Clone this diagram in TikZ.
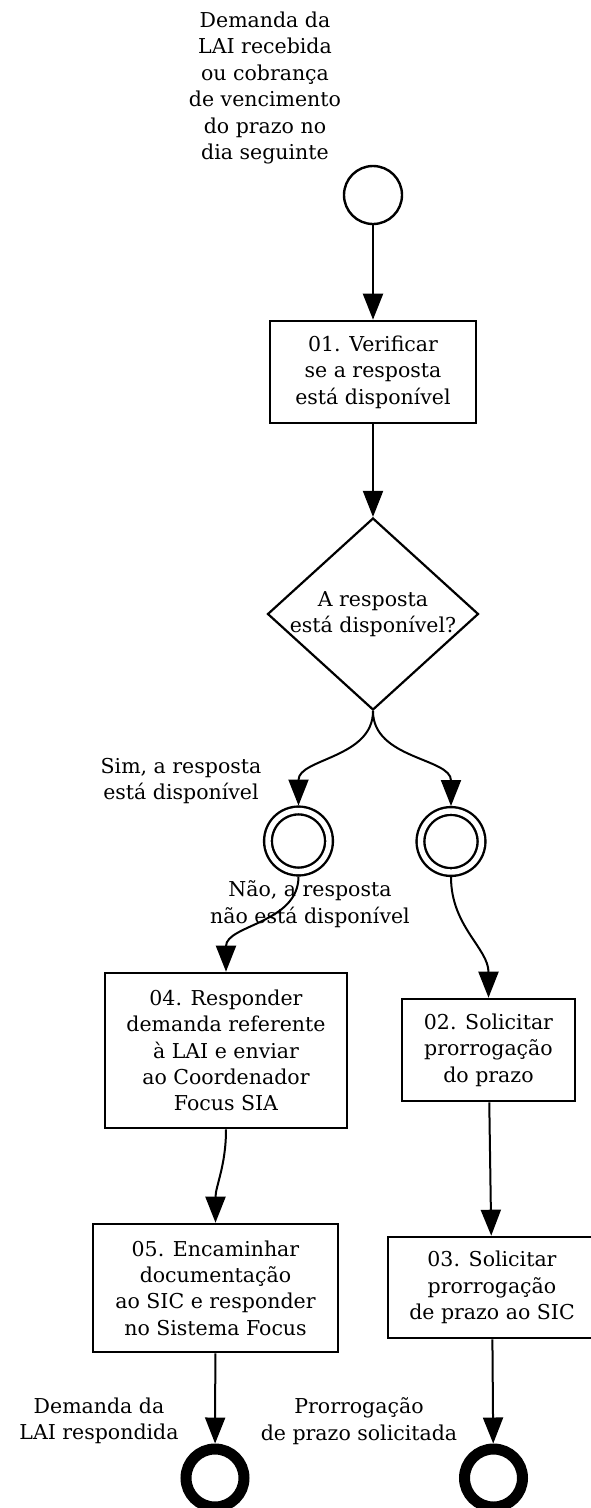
\documentclass[tikz,border=0pt]{standalone}
\usepackage{fontspec}
\setmainfont{DejaVu Serif}
\usetikzlibrary{shapes.geometric,arrows.meta,positioning}

\begin{document}
\begin{tikzpicture}[x=1pt, y=-1pt,
    txt/.style={align=center, inner sep=0, font=\fontsize{20.5}{26.4}\selectfont},
    task/.style={txt, draw, rectangle, line width=2.6pt},
    flow/.style={line width=2pt, -{Triangle[length=26pt, width=20pt]}}]
  \useasboundingbox (0,0) rectangle (590,1508);

  % events
  \node [circle, draw, line width=2.4pt, minimum size=58, inner sep=0](s) at (373,195) {};
  \node [circle, draw, line width=2.4pt, double, double distance=5.4pt, minimum size=61, inner sep=0, outer sep=5pt](g1) at (298.5,841) {};
  \node [circle, draw, line width=2.4pt, double, double distance=5.4pt, minimum size=61, inner sep=0, outer sep=5pt](g2) at (451,841.5) {};
  \node [circle, draw, line width=11pt, minimum size=58, inner sep=0](e1) at (215,1478) {};
  \node [circle, draw, line width=11pt, minimum size=58, inner sep=0](e2) at (493.5,1478) {};

  % tasks and gateway
  \node [task, minimum width=206, minimum height=102](t01) at (373,372) {01. Verificar\\se a resposta\\está disponível};
  \node [diamond, draw, line width=2.2pt, minimum width=211, minimum height=192, inner sep=0,
    label={[txt]center:{A resposta\\está disponível?}}](q) at (373,614) {};
  \node [task, minimum width=242, minimum height=155](t04) at (226,1050.5) {04. Responder\\demanda referente\\à LAI e enviar\\ao Coordenador\\Focus SIA};
  \node [task, minimum width=173, minimum height=102](t02) at (488.5,1050) {02. Solicitar\\prorrogação\\do prazo};
  \node [task, minimum width=245, minimum height=128](t05) at (215.5,1288) {05. Encaminhar\\documentação\\ao SIC e responder\\no Sistema Focus};
  \node [task, minimum width=208, minimum height=101](t03) at (492,1287.5) {03. Solicitar\\prorrogação\\de prazo ao SIC};

  % texts
  \node [txt](sl) at (265,88) {Demanda da\\LAI recebida\\ou cobrança\\de vencimento\\do prazo no\\dia seguinte};
  \node [txt](yl) at (181,781) {Sim, a resposta\\está disponível};
  \node [txt](nl) at (310,904) {Não, a resposta\\não está disponível};
  \node [txt](el1) at (99,1421) {Demanda da\\LAI respondida};
  \node [txt](el2) at (359,1421) {Prorrogação\\de prazo solicitada};

  % flows
  \draw [flow] (s) -- (t01);
  \draw [flow] (t01) -- (q);
  \draw [flow] (q) to[out=-90, in=90] (g1);
  \draw [flow] (q) to[out=-90, in=90] (g2);
  \draw [flow] (g1) to[out=-90, in=90] (t04);
  \draw [flow] (g2) to[out=-90, in=90] (t02);
  \draw [flow] (t04) to[out=-90, in=90] (t05);
  \draw [flow] (t02) -- (t03);
  \draw [flow] (t05) -- (e1);
  \draw [flow] (t03) -- (e2);
\end{tikzpicture}
\end{document}
